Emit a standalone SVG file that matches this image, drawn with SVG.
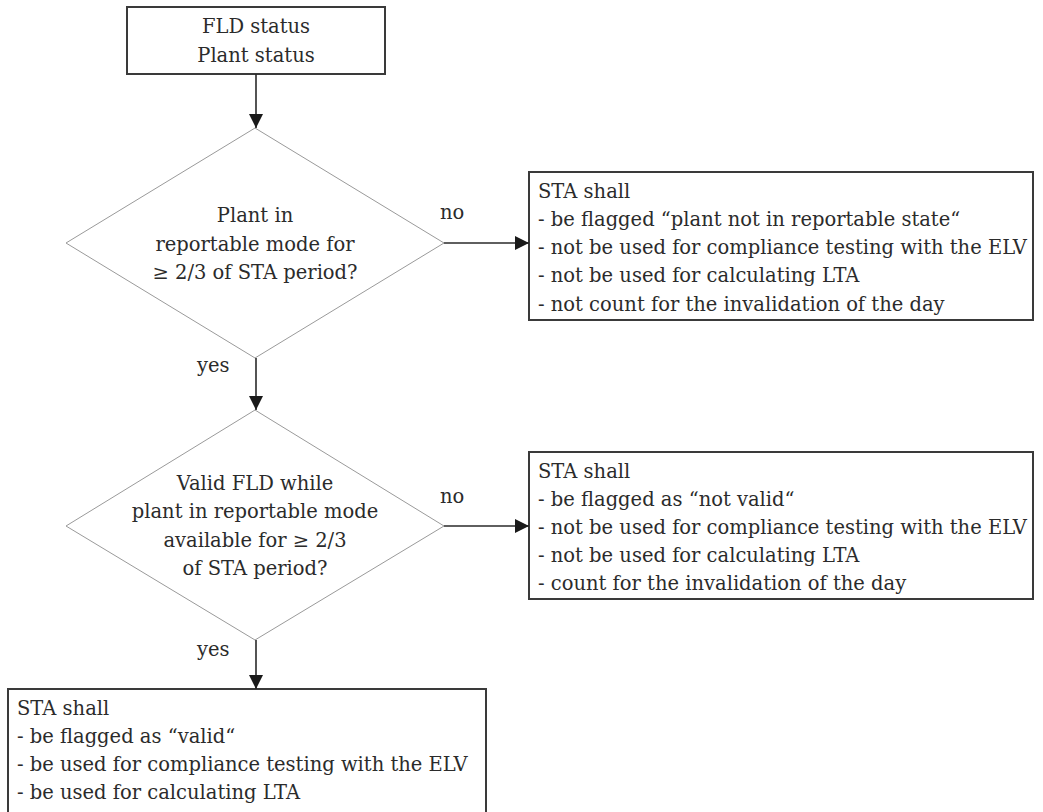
<svg xmlns="http://www.w3.org/2000/svg" width="1043" height="812" viewBox="0 0 1043 812">
  <style>
    .bg { fill: #ffffff; }
    .box { fill: #ffffff; stroke: #3a3a3a; stroke-width: 2; }
    .dia { fill: #ffffff; stroke: #9a9a9a; stroke-width: 1; }
    .conn { fill: none; stroke: #2a2a2a; stroke-width: 1.6; }
    text { font-family: "DejaVu Serif", "Liberation Serif", serif; font-size: 19.5px; fill: #2b2b2b; }
    .c { text-anchor: middle; }
  </style>
  <defs>
    <marker id="arrow" viewBox="0 0 14 14" refX="14" refY="7" markerWidth="14" markerHeight="14" markerUnits="userSpaceOnUse" orient="auto">
      <path d="M0,0 L14,7 L0,14 Z" fill="#1a1a1a"/>
    </marker>
  </defs>
  <rect class="bg" x="0" y="0" width="1043" height="812"/>

  <!-- inputs -->
  <g id="input">
    <rect class="box" x="127" y="7" width="258" height="67"/>
    <text class="c" x="256" y="33">FLD status</text>
    <text class="c" x="256" y="62">Plant status</text>
  </g>

  <!-- decision: reportable mode -->
  <g id="decision-reportable">
    <polygon class="dia" points="255,128 444,243 255,358 66,243"/>
    <text class="c" x="255" y="222">Plant in</text>
    <text class="c" x="255" y="251">reportable mode for</text>
    <text class="c" x="255" y="279">≥ 2/3 of STA period?</text>
  </g>

  <!-- outcome: plant not in reportable state -->
  <g id="result-not-reportable">
    <rect class="box" x="529" y="172" width="504" height="148"/>
    <text x="538" y="198">STA shall</text>
    <text x="538" y="226">- be flagged “plant not in reportable state“</text>
    <text x="538" y="254">- not be used for compliance testing with the ELV</text>
    <text x="538" y="282">- not be used for calculating LTA</text>
    <text x="538" y="311">- not count for the invalidation of the day</text>
  </g>

  <!-- decision: valid FLD -->
  <g id="decision-valid">
    <polygon class="dia" points="255,410 444,526 255,640 66,526"/>
    <text class="c" x="255" y="490">Valid FLD while</text>
    <text class="c" x="255" y="518">plant in reportable mode</text>
    <text class="c" x="255" y="547">available for ≥ 2/3</text>
    <text class="c" x="255" y="575">of STA period?</text>
  </g>

  <!-- outcome: not valid -->
  <g id="result-not-valid">
    <rect class="box" x="529" y="452" width="504" height="147"/>
    <text x="538" y="478">STA shall</text>
    <text x="538" y="506">- be flagged as “not valid“</text>
    <text x="538" y="534">- not be used for compliance testing with the ELV</text>
    <text x="538" y="562">- not be used for calculating LTA</text>
    <text x="538" y="590">- count for the invalidation of the day</text>
  </g>

  <!-- outcome: valid -->
  <g id="result-valid">
    <rect class="box" x="8" y="689" width="478" height="150"/>
    <text x="17" y="715">STA shall</text>
    <text x="17" y="743">- be flagged as “valid“</text>
    <text x="17" y="771">- be used for compliance testing with the ELV</text>
    <text x="17" y="799">- be used for calculating LTA</text>
  </g>

  <!-- connectors -->
  <g id="connectors">
    <line class="conn" x1="256" y1="74" x2="256" y2="128" marker-end="url(#arrow)"/>
    <line class="conn" x1="256" y1="358" x2="256" y2="410" marker-end="url(#arrow)"/>
    <line class="conn" x1="256" y1="640" x2="256" y2="689" marker-end="url(#arrow)"/>
    <line class="conn" x1="444" y1="243" x2="529" y2="243" marker-end="url(#arrow)"/>
    <line class="conn" x1="444" y1="526" x2="529" y2="526" marker-end="url(#arrow)"/>
    <text x="440" y="219">no</text>
    <text x="440" y="503">no</text>
    <text x="197" y="372">yes</text>
    <text x="197" y="656">yes</text>
  </g>
</svg>
